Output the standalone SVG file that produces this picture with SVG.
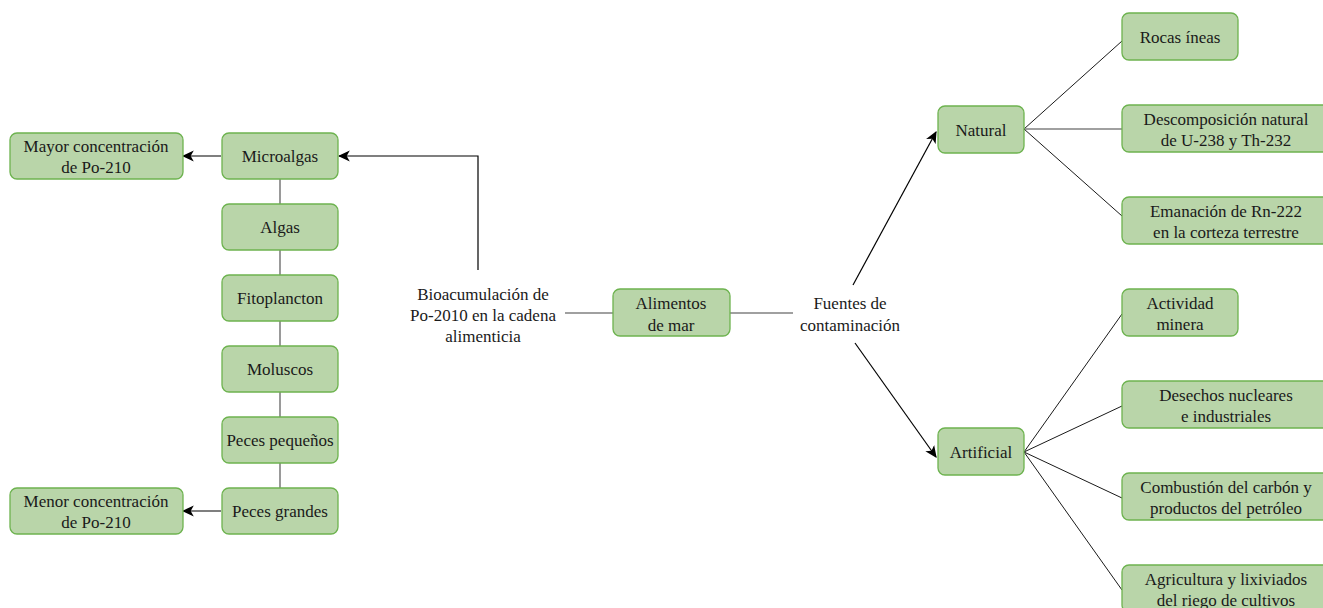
<svg xmlns="http://www.w3.org/2000/svg" width="1323" height="608" viewBox="0 0 1323 608">
  <style>
    .box { fill: #b9d5a9; stroke: #6db34f; stroke-width: 1.3; }
    .t { font-family: "Liberation Serif", "DejaVu Serif", serif; font-size: 17px; fill: #1a1a1a; text-anchor: middle; }
    .grey { stroke: #808080; stroke-width: 1.6; fill: none; }
    .thin { stroke: #1a1a1a; stroke-width: 1; fill: none; }
    .arr { stroke: #000; stroke-width: 1.2; fill: none; marker-end: url(#head); }
  </style>
  <defs>
    <marker id="head" viewBox="0 0 10 10" refX="9" refY="5" markerWidth="12" markerHeight="12" markerUnits="userSpaceOnUse" orient="auto">
      <path d="M0,0.5 L10,5 L0,9.5 L2.6,5 Z" fill="#000"/>
    </marker>
  </defs>

  <!-- connectors -->
  <g id="connectors">
    <!-- food chain column -->
    <line class="grey" x1="280" y1="179" x2="280" y2="204"/>
    <line class="grey" x1="280" y1="250" x2="280" y2="275"/>
    <line class="grey" x1="280" y1="321" x2="280" y2="346"/>
    <line class="grey" x1="280" y1="392" x2="280" y2="417"/>
    <line class="grey" x1="280" y1="463" x2="280" y2="488"/>
    <!-- concentration arrows -->
    <line class="arr" x1="221" y1="156" x2="183" y2="156"/>
    <line class="arr" x1="221" y1="511" x2="183" y2="511"/>
    <!-- bioaccumulation to top of chain -->
    <polyline class="arr" points="478,270 478,156 339,156"/>
    <!-- central links -->
    <line class="grey" x1="565" y1="313" x2="613" y2="313"/>
    <line class="grey" x1="730" y1="313" x2="793" y2="313"/>
    <!-- source branches -->
    <line class="arr" x1="853" y1="285" x2="936" y2="132"/>
    <line class="arr" x1="855" y1="343" x2="936" y2="457"/>
    <!-- natural sources -->
    <line class="thin" x1="1024" y1="129" x2="1122" y2="41"/>
    <line class="grey" x1="1024" y1="129" x2="1122" y2="129"/>
    <line class="thin" x1="1024" y1="129" x2="1122" y2="216"/>
    <!-- artificial sources -->
    <line class="thin" x1="1024" y1="452" x2="1122" y2="314"/>
    <line class="thin" x1="1024" y1="452" x2="1122" y2="406"/>
    <line class="thin" x1="1024" y1="452" x2="1122" y2="498"/>
    <line class="thin" x1="1024" y1="452" x2="1122" y2="590"/>
  </g>

  <g id="mayor">
    <rect class="box" x="10" y="133" width="173" height="46" rx="7"/>
    <text class="t" x="96" y="152">Mayor concentración</text>
    <text class="t" x="96" y="173">de Po-210</text>
  </g>
  <g id="menor">
    <rect class="box" x="10" y="488" width="173" height="46" rx="7"/>
    <text class="t" x="96" y="507">Menor concentración</text>
    <text class="t" x="96" y="528">de Po-210</text>
  </g>

  <g id="microalgas">
    <rect class="box" x="222" y="133" width="116" height="46" rx="7"/>
    <text class="t" x="280" y="162">Microalgas</text>
  </g>
  <g id="algas">
    <rect class="box" x="222" y="204" width="116" height="46" rx="7"/>
    <text class="t" x="280" y="233">Algas</text>
  </g>
  <g id="fitoplancton">
    <rect class="box" x="222" y="275" width="116" height="46" rx="7"/>
    <text class="t" x="280" y="304">Fitoplancton</text>
  </g>
  <g id="moluscos">
    <rect class="box" x="222" y="346" width="116" height="46" rx="7"/>
    <text class="t" x="280" y="375">Moluscos</text>
  </g>
  <g id="peces-pequenos">
    <rect class="box" x="222" y="417" width="116" height="46" rx="7"/>
    <text class="t" x="280" y="446">Peces pequeños</text>
  </g>
  <g id="peces-grandes">
    <rect class="box" x="222" y="488" width="116" height="46" rx="7"/>
    <text class="t" x="280" y="517">Peces grandes</text>
  </g>

  <g id="bioacumulacion">
    <text class="t" x="483" y="300">Bioacumulación de</text>
    <text class="t" x="483" y="321">Po-2010 en la cadena</text>
    <text class="t" x="483" y="342">alimenticia</text>
  </g>

  <g id="alimentos">
    <rect class="box" x="613" y="289" width="117" height="47" rx="7"/>
    <text class="t" x="671" y="309">Alimentos</text>
    <text class="t" x="671" y="331">de mar</text>
  </g>

  <g id="fuentes">
    <text class="t" x="850" y="309">Fuentes de</text>
    <text class="t" x="850" y="331">contaminación</text>
  </g>

  <g id="natural">
    <rect class="box" x="938" y="106" width="86" height="47" rx="7"/>
    <text class="t" x="981" y="136">Natural</text>
  </g>
  <g id="artificial">
    <rect class="box" x="938" y="428" width="86" height="47" rx="7"/>
    <text class="t" x="981" y="458">Artificial</text>
  </g>

  <g id="rocas">
    <rect class="box" x="1122" y="13" width="116" height="47" rx="7"/>
    <text class="t" x="1180" y="43">Rocas íneas</text>
  </g>
  <g id="descomposicion">
    <rect class="box" x="1122" y="105" width="210" height="47" rx="7"/>
    <text class="t" x="1226" y="125">Descomposición natural</text>
    <text class="t" x="1226" y="146">de U-238 y Th-232</text>
  </g>
  <g id="emanacion">
    <rect class="box" x="1122" y="197" width="210" height="47" rx="7"/>
    <text class="t" x="1226" y="217">Emanación de Rn-222</text>
    <text class="t" x="1226" y="238">en la corteza terrestre</text>
  </g>
  <g id="mineria">
    <rect class="box" x="1122" y="289" width="116" height="47" rx="7"/>
    <text class="t" x="1180" y="309">Actividad</text>
    <text class="t" x="1180" y="330">minera</text>
  </g>
  <g id="desechos">
    <rect class="box" x="1122" y="381" width="210" height="47" rx="7"/>
    <text class="t" x="1226" y="401">Desechos nucleares</text>
    <text class="t" x="1226" y="422">e industriales</text>
  </g>
  <g id="combustion">
    <rect class="box" x="1122" y="473" width="210" height="47" rx="7"/>
    <text class="t" x="1226" y="493">Combustión del carbón y</text>
    <text class="t" x="1226" y="514">productos del petróleo</text>
  </g>
  <g id="agricultura">
    <rect class="box" x="1122" y="565" width="210" height="47" rx="7"/>
    <text class="t" x="1226" y="585">Agricultura y lixiviados</text>
    <text class="t" x="1226" y="606">del riego de cultivos</text>
  </g>
</svg>
